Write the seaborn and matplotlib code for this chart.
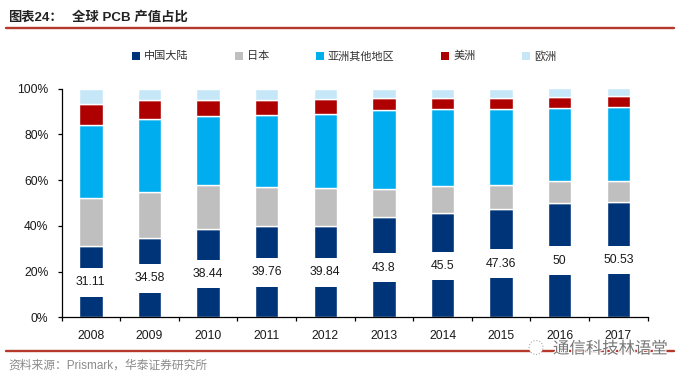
import matplotlib
matplotlib.use("Agg")
import matplotlib.pyplot as plt
from matplotlib.patches import Patch, Circle
from matplotlib.lines import Line2D
import matplotlib.patheffects as pe
import seaborn as sns

years = ["2008", "2009", "2010", "2011", "2012", "2013", "2014", "2015", "2016", "2017"]
china = [31.11, 34.58, 38.44, 39.76, 39.84, 43.8, 45.5, 47.36, 50, 50.53]
china_labels = ["31.11", "34.58", "38.44", "39.76", "39.84", "43.8", "45.5", "47.36", "50", "50.53"]
japan = [20.9, 20.2, 19.3, 17.3, 16.7, 12.4, 11.9, 10.4, 9.6, 9.1]
asia = [32.0, 31.9, 30.3, 31.3, 32.4, 34.4, 33.5, 33.2, 31.9, 32.3]
america = [9.2, 8.3, 7.0, 6.6, 6.5, 5.2, 4.9, 4.8, 4.8, 4.7]
europe = [6.79, 5.02, 4.96, 5.04, 4.56, 4.2, 4.2, 4.24, 3.7, 3.37]
series_names = ["中国大陆", "日本", "亚洲其他地区", "美洲", "欧洲"]
colors = ["#003478", "#BFBFBF", "#00ADEF", "#AE0000", "#C6E7F7"]
y_ticks = [0, 20, 40, 60, 80, 100]

sns.set_theme(style="white")
CJK = ["Noto Sans CJK SC", "DejaVu Sans"]
LAT = ["Liberation Sans", "Noto Sans CJK SC"]
plt.rcParams["font.family"] = LAT

W, H = 692, 378
fig = plt.figure(figsize=(W / 100, H / 100), dpi=100, facecolor="white")
ax = fig.add_axes([61.5 / W, 1 - 317.3 / H, 586.2 / W, 228.8 / H])

bottom = [0.0] * len(years)
for vals, col in zip([china, japan, asia, america, europe], colors):
    sns.barplot(x=years, y=vals, bottom=bottom, color=col, saturation=1,
                width=0.4, errorbar=None, ax=ax)
    bottom = [b + v for b, v in zip(bottom, vals)]

ax.set_xlim(-0.5, 9.5)
ax.set_ylim(0, 100)
ax.set_yticks(y_ticks)
ax.set_yticklabels([f"{t}%" for t in y_ticks])
ax.set_xticks(range(len(years)))
ax.set_xticklabels(years)
ax.set_xticks([i - 0.5 for i in range(len(years) + 1)], minor=True)
ax.tick_params(axis="x", which="major", length=0, pad=9.5, labelsize=8.7, colors="#1a1a1a")
ax.tick_params(axis="x", which="minor", length=3, width=0.9, color="black", bottom=True)
ax.tick_params(axis="y", which="major", length=3, width=0.9, pad=6.5, labelsize=8.7,
               color="black", labelcolor="#1a1a1a", left=True)
ax.set_xlabel("")
ax.set_ylabel("")
for s in ["top", "right"]:
    ax.spines[s].set_visible(False)
for s in ["left", "bottom"]:
    ax.spines[s].set_color("black")
    ax.spines[s].set_linewidth(0.9)

for i, (v, lab) in enumerate(zip(china, china_labels)):
    ax.text(i, v / 2 + 0.4, lab, ha="center", va="center_baseline", fontsize=8.8, color="#1a1a1a",
            bbox=dict(boxstyle="square,pad=0.68", fc="white", ec="none"), zorder=5)

handles = [Patch(facecolor=c, edgecolor="none", label=n) for c, n in zip(colors, series_names)]
leg = fig.legend(handles=handles, ncol=5, loc="center", bbox_to_anchor=(344 / W, 1 - 56 / H),
                 frameon=False, handlelength=0.72, handleheight=0.72, handletextpad=0.4,
                 columnspacing=4.15, borderpad=0, prop={"family": CJK, "size": 8})
for t in leg.get_texts():
    t.set_color("#333333")

# Title, rules, source
fig.text(8 / W, 1 - 17.5 / H, "图表24：", fontsize=9.5, fontweight="bold", color="#222222",
         family=LAT, ha="left", va="center")
fig.text(72 / W, 1 - 17.5 / H, "全球 PCB 产值占比", fontsize=9.6, fontweight="bold", color="#222222",
         family=LAT, ha="left", va="center")
for y in (28, 350.7):
    fig.add_artist(Line2D([6 / W, 674 / W], [1 - y / H, 1 - y / H], color="#B5392B", lw=1.7,
                          transform=fig.transFigure))
fig.text(8 / W, 1 - 366 / H, "资料来源：Prismark，华泰证券研究所", fontsize=8.5, color="#8a8a8a",
         family=LAT, ha="left", va="center")

# Watermark
wm = fig.text(553 / W, 1 - 349 / H, "通信科技林语堂", fontsize=11.8, color="#777777",
              family=CJK, ha="left", va="center", zorder=10)
wm.set_path_effects([pe.withStroke(linewidth=1.5, foreground="white")])
fig.add_artist(Circle((536, H - 347.5), 7, transform=None, fc="white", ec="#aaaaaa",
                      lw=0.8, ls=":", zorder=10))

fig.savefig("out.png", dpi=100, facecolor="white")
